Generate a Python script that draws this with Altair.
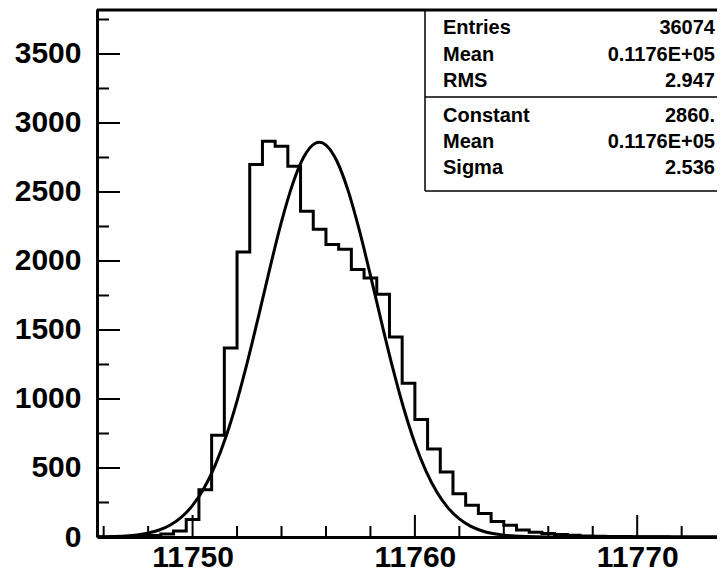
import altair as alt
import pandas as pd

# ---------------- data ----------------
bin_lo = 11745.714
bin_width = 0.5714
counts = [0, 1, 2, 4, 10, 22, 43, 126, 343, 737,
          1370, 2065, 2700, 2867, 2831, 2686, 2360, 2230, 2119, 2085,
          1938, 1877, 1759, 1449, 1114, 851, 638, 471, 314, 230,
          170, 112, 86, 50, 35, 25, 18, 12, 8, 6,
          4, 3, 2, 1, 1, 0, 0, 0, 0, 0]

curve_x = [11745.7, 11746.5, 11747.0, 11747.5, 11748.0, 11748.5, 11749.0, 11749.5,
           11750.0, 11750.5, 11751.0, 11751.5, 11752.0, 11752.5, 11753.0, 11753.5,
           11754.0, 11754.5, 11755.0, 11755.5, 11755.7, 11756.0, 11756.5, 11757.0,
           11757.5, 11758.0, 11758.5, 11759.0, 11759.5, 11760.0, 11760.5, 11761.0,
           11761.5, 11762.0, 11762.5, 11763.0, 11763.5, 11764.0, 11764.5, 11765.0,
           11766.0, 11767.0, 11768.0, 11774.0]
curve_y = [1.2, 4.0, 8.0, 15.4, 28.5, 50.8, 87, 144,
           229, 350, 514, 726, 987, 1290, 1622, 1963,
           2285, 2557, 2753, 2851, 2860, 2840, 2721, 2508,
           2223, 1896, 1555, 1227, 931, 679, 477, 322,
           209, 131, 78.5, 45.4, 25.3, 13.5, 6.9, 3.4,
           0.75, 0.14, 0.0, 0.0]

x_labels = [11750, 11760, 11770]
x_minor = [11746, 11748, 11752, 11754, 11756, 11758, 11762, 11764, 11766, 11768, 11772]
y_labels = [0, 500, 1000, 1500, 2000, 2500, 3000, 3500]
y_minor = [250, 750, 1250, 1750, 2250, 2750, 3250, 3750]

stat_names = ["Entries", "Mean", "RMS", "Constant", "Mean", "Sigma"]
stat_values = ["36074", "0.1176E+05", "2.947", "2860.", "0.1176E+05", "2.536"]

# ---------------- layout ----------------
W, H = 620, 528
X_DOM = [11745.7, 11773.59]
Y_DOM = [0, 3826]
FONT = "Liberation Sans"

xs = alt.Scale(domain=X_DOM, nice=False, zero=False)
ys = alt.Scale(domain=Y_DOM, nice=False, zero=False)

edges = [bin_lo + k * bin_width for k in range(len(counts) + 1)]
hist_df = pd.DataFrame({"x": edges, "y": counts + [counts[-1]]})
curve_df = pd.DataFrame({"x": curve_x, "y": curve_y})

hist = alt.Chart(hist_df).mark_line(
    interpolate="step-after", color="black", strokeWidth=3, clip=True
).encode(
    x=alt.X("x:Q", scale=xs, title=None,
            axis=alt.Axis(values=x_labels, ticks=False, grid=False, domain=True,
                          domainColor="black", domainWidth=3,
                          labelFont=FONT, labelFontSize=30, labelFontWeight="bold",
                          labelColor="black", labelPadding=29,
                          labelBaseline="alphabetic", format="d")),
    y=alt.Y("y:Q", scale=ys, title=None,
            axis=alt.Axis(values=y_labels, ticks=False, grid=False, domain=True,
                          domainColor="black", domainWidth=3,
                          labelFont=FONT, labelFontSize=30, labelFontWeight="bold",
                          labelColor="black", labelPadding=16, format="d")),
)

curve = alt.Chart(curve_df).mark_line(
    interpolate="monotone", color="black", strokeWidth=3, clip=True
).encode(x=alt.X("x:Q", scale=xs, title=None), y=alt.Y("y:Q", scale=ys, title=None))

# inward ticks (ROOT style)
xmaj = alt.Chart(pd.DataFrame({"t": x_labels})).mark_rule(color="black", strokeWidth=2).encode(
    x=alt.X("t:Q", scale=xs, title=None), y=alt.value(H), y2=alt.value(H - 22))
xmin = alt.Chart(pd.DataFrame({"t": x_minor})).mark_rule(color="black", strokeWidth=2).encode(
    x=alt.X("t:Q", scale=xs, title=None), y=alt.value(H), y2=alt.value(H - 11))
ymaj = alt.Chart(pd.DataFrame({"t": y_labels[1:]})).mark_rule(color="black", strokeWidth=2).encode(
    y=alt.Y("t:Q", scale=ys, title=None), x=alt.value(0), x2=alt.value(23))
ymin = alt.Chart(pd.DataFrame({"t": y_minor})).mark_rule(color="black", strokeWidth=2).encode(
    y=alt.Y("t:Q", scale=ys, title=None), x=alt.value(0), x2=alt.value(12))

# top frame line
top_line = alt.Chart(pd.DataFrame({"a": [0]})).mark_rule(color="black", strokeWidth=3).encode(
    x=alt.value(0), x2=alt.value(W), y=alt.value(1))

# stats box
BOX_L, BOX_B, SEP = 328, 182, 88
box_df = pd.DataFrame({"a": [0]})
box_left = alt.Chart(box_df).mark_rule(color="black", strokeWidth=1.5).encode(
    x=alt.value(BOX_L), y=alt.value(0), y2=alt.value(BOX_B))
box_bottom = alt.Chart(box_df).mark_rule(color="black", strokeWidth=1.5).encode(
    x=alt.value(BOX_L), x2=alt.value(W), y=alt.value(BOX_B))
box_sep = alt.Chart(box_df).mark_rule(color="black", strokeWidth=1.5).encode(
    x=alt.value(BOX_L), x2=alt.value(W), y=alt.value(SEP))

row_y = [19, 46, 72, 107, 133, 159]
texts = []
for name, val, ry in zip(stat_names, stat_values, row_y):
    d = pd.DataFrame({"n": [name], "v": [val]})
    texts.append(alt.Chart(d).mark_text(align="left", baseline="middle", font=FONT,
                                        fontSize=20, fontWeight="bold", color="black").encode(
        x=alt.value(346), y=alt.value(ry), text="n:N"))
    texts.append(alt.Chart(d).mark_text(align="right", baseline="middle", font=FONT,
                                        fontSize=20, fontWeight="bold", color="black").encode(
        x=alt.value(618), y=alt.value(ry), text="v:N"))

chart = alt.layer(
    hist, curve, xmaj, xmin, ymaj, ymin, top_line, box_left, box_bottom, box_sep, *texts
).properties(
    width=W, height=H,
    autosize=alt.AutoSizeParams(type="none"),
    padding={"left": 89, "top": 1, "right": 0, "bottom": 36},
    background="white",
).configure_view(stroke=None)

chart.save("out.html", embed_options={"renderer": "svg", "actions": False})
